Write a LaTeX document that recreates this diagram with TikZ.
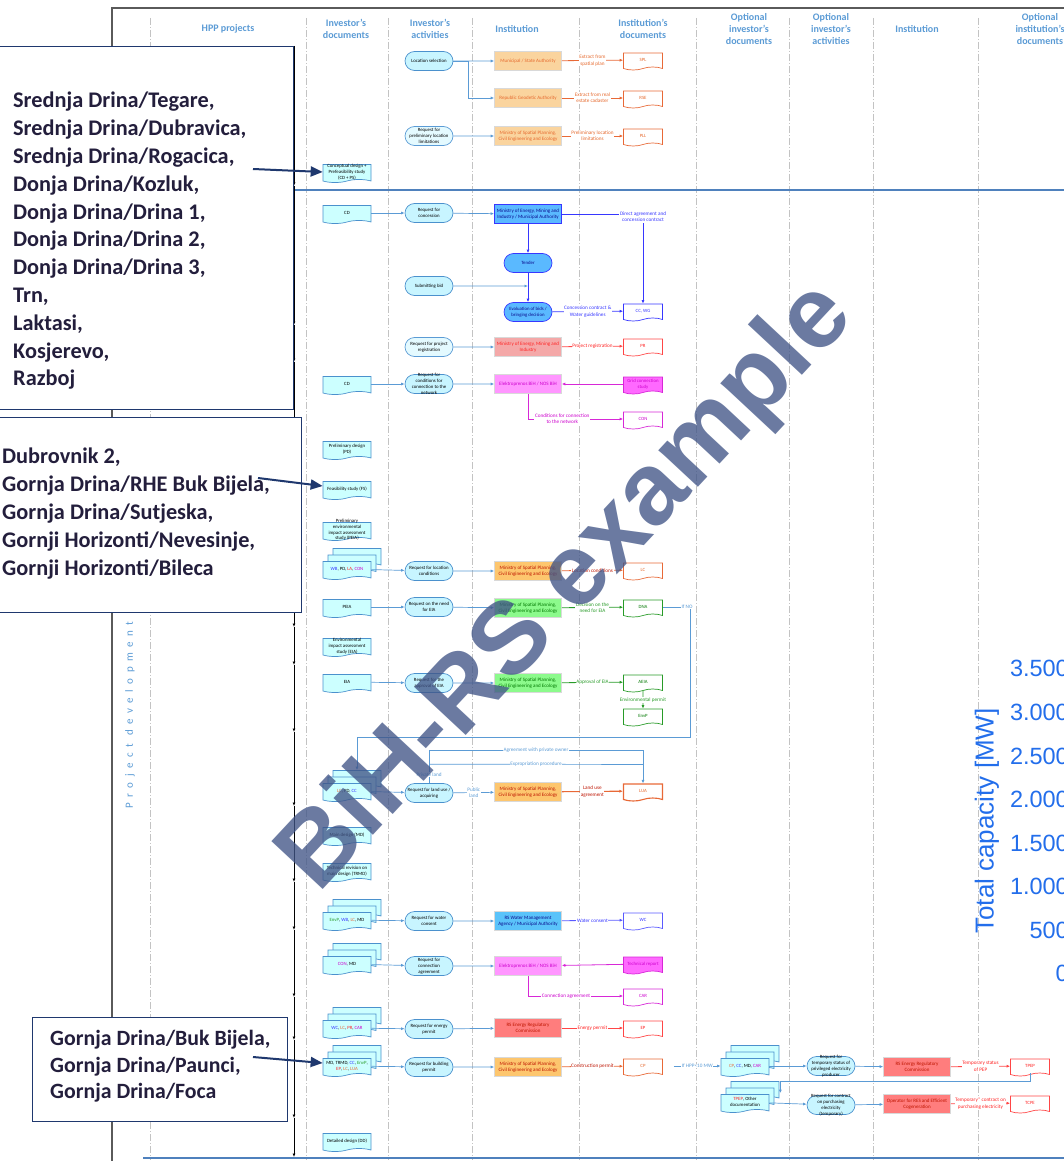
\documentclass[tikz,border=0pt]{standalone}
\usepackage{fontspec}
\setmainfont{Carlito}
\newfontfamily\arialf{Liberation Sans}
\newfontfamily\spacedf[LetterSpace=50]{Carlito}
\usetikzlibrary{shapes.symbols,shapes.misc,shadows,arrows.meta,calc}

\definecolor{hdrc}{RGB}{91,155,213}
\definecolor{lanec}{RGB}{195,195,195}
\definecolor{framec}{RGB}{90,90,90}
\definecolor{sepc}{RGB}{79,129,189}
\definecolor{conc}{RGB}{91,155,213}
\definecolor{docd}{RGB}{75,145,205}
\definecolor{docf}{RGB}{204,255,255}
\definecolor{actf}{RGB}{200,245,255}
\definecolor{actf2}{RGB}{228,250,255}
\definecolor{orgf}{RGB}{250,212,158}
\definecolor{orgf2}{RGB}{253,198,110}
\definecolor{orgt}{RGB}{230,105,45}
\definecolor{drt}{RGB}{190,20,0}
\definecolor{orgd}{RGB}{232,105,55}
\definecolor{grnf}{RGB}{140,250,140}
\definecolor{grnd}{RGB}{40,155,40}
\definecolor{grnt}{RGB}{0,120,0}
\definecolor{bluf}{RGB}{90,185,255}
\definecolor{blud}{RGB}{55,55,255}
\definecolor{blut}{RGB}{10,10,140}
\definecolor{pnkf}{RGB}{244,168,168}
\definecolor{redt}{RGB}{255,35,35}
\definecolor{redd}{RGB}{255,70,70}
\definecolor{magf}{RGB}{255,150,255}
\definecolor{magd}{RGB}{215,40,215}
\definecolor{magt}{RGB}{205,0,205}
\definecolor{magdf}{RGB}{255,105,255}
\definecolor{skyf}{RGB}{90,195,250}
\definecolor{redf}{RGB}{255,125,125}
\definecolor{vild}{RGB}{90,90,255}
\definecolor{navyc}{RGB}{31,56,110}
\definecolor{cbt}{RGB}{35,30,60}
\definecolor{capc}{RGB}{35,110,235}
\definecolor{wmc}{RGB}{65,85,135}

\tikzset{
  lane/.style={draw=lanec, line width=0.8pt, dash pattern=on 7pt off 2pt on 1pt off 2pt},
  hdr/.style={text=hdrc, font=\fontsize{10}{12}\selectfont\bfseries, align=center, inner sep=0pt},
  ntxt/.style={align=center, inner sep=0pt, font=\fontsize{4.8}{6}\selectfont},
  itxt/.style={align=center, inner sep=0pt, font=\fontsize{5}{6.3}\selectfont},
  dtxt/.style={align=center, inner sep=0pt, font=\fontsize{4.8}{5.8}\selectfont},
  actshape/.style={rounded rectangle, draw=docd, fill=actf, line width=0.7pt, minimum width=48pt, minimum height=19pt, inner sep=0pt},
  act/.style={actshape, label={[ntxt]center:#1}},
  actl/.style={actshape, fill=actf2, draw=hdrc, label={[ntxt]center:#1}},
  actb/.style={actshape, fill=bluf, draw=blud, label={[ntxt, text=blut]center:#1}},
  docshape/.style={tape, tape bend top=none, tape bend height=3pt, minimum width=48pt, minimum height=18pt, inner sep=0pt, line width=0.7pt},
  idoc/.style={docshape, draw=docd, fill=docf, label={[dtxt]center:#1}},
  mdoc/.style={docshape, draw=docd, fill=docf,
     general shadow={shadow xshift=10pt, shadow yshift=13pt, fill=docf, draw=docd, line width=0.7pt},
     general shadow={shadow xshift=5pt, shadow yshift=6.5pt, fill=docf, draw=docd, line width=0.7pt},
     label={[dtxt]center:#1}},
  odoc/.style n args={3}{docshape, minimum width=39pt, minimum height=17pt, draw=#1, fill=white, label={[dtxt, text=#2]center:#3}},
  odocf/.style n args={3}{docshape, minimum width=39pt, minimum height=17pt, draw=#1, fill=magdf, label={[dtxt, text=#2]center:#3}},
  inst/.style n args={3}{rectangle, minimum width=67pt, minimum height=19pt, inner sep=0pt, fill=#1, draw=black!15, line width=0.6pt, label={[itxt, text=#2]center:#3}},
  con/.style={draw=conc, line width=0.7pt, -{Latex[length=3.5pt,width=3pt]}},
  conp/.style={draw=conc, line width=0.7pt},
  ccon/.style={draw=#1, line width=0.8pt, -{Latex[length=3.5pt,width=3pt]}},
  clbl/.style={fill=white, inner sep=0.6pt, align=center, font=\fontsize{5.2}{6.4}\selectfont, text=#1},
  tl/.style={draw=black, line width=0.9pt, -{Latex[length=3.5pt,width=3pt]}},
  cbox/.style={draw=navyc, line width=1.4pt, fill=white, inner sep=0pt, anchor=north west},
  cbtxt/.style={align=left, inner sep=0pt, anchor=north west, text=cbt, font=\fontsize{22.3}{27.8}\selectfont\bfseries},
  carr/.style={draw=navyc, line width=2pt, -{Triangle[length=12pt,width=10pt]}},
  capn/.style={anchor=east, inner sep=0pt, text=capc, font=\arialf\fontsize{23.5}{24}\selectfont},
}

\begin{document}
\begin{tikzpicture}[x=1pt,y=-1pt]
\useasboundingbox (0,0) rectangle (1064,1161);
% lanes
\foreach \xx in {150,306,388,472,579,696,789,873,978}
  \draw[lane] (\xx,18) -- (\xx,1160);
% frame and separators
\draw[framec, line width=1.5pt] (112,1161) -- (112,8) -- (1064,8);
\draw[sepc, line width=2pt] (112,190) -- (1064,190);
\draw[sepc, line width=2pt] (143,1158) -- (1064,1158);

% headers
\node[hdr] (h1) at (228,29) {HPP projects};
\node[hdr] (h2) at (346,29) {Investor's\\documents};
\node[hdr] (h3) at (430,29) {Investor's\\activities};
\node[hdr] (h4) at (517,29) {Institution};
\node[hdr] (h5) at (643,29) {Institution's\\documents};
\node[hdr] (h6) at (749,29) {Optional\\investor's\\documents};
\node[hdr] (h7) at (831,29) {Optional\\investor's\\activities};
\node[hdr] (h8) at (917,29) {Institution};
\node[hdr] (h9) at (1040,29) {Optional\\institution's\\documents};

\node[rotate=90, text=hdrc, inner sep=0pt, font=\spacedf\fontsize{11}{11}\selectfont] (pdev) at (130,715) {Project development};

% timeline
\foreach \a/\b in {46/186,186/325,325/362,362/627,627/665,665/732,732/806,806/882,882/930,930/997,997/1040,1040/1118,1118/1157}
  \draw[tl] (294,\a) -- (294,\b);

% ===== top section =====
\node[act={Location selection}] (ls) at (429,61) {};
\node[inst={orgf}{orgt}{Municipal / State Authority}] (mun) at (528,61) {};
\node[inst={orgf}{orgt}{Republic Geodetic Authority}] (rga) at (528,98) {};
\node[actl={Request for\\preliminary location\\limitations}] (rpl) at (429,136) {};
\node[inst={orgf}{orgt}{Ministry of Spatial Planning,\\Civil Engineering and Ecology}] (msp1) at (528,136) {};
\node[odoc={orgd}{orgt}{SPL}] (spl) at (643,60) {};
\node[odoc={orgd}{orgt}{RSE}] (rse) at (643,98) {};
\node[odoc={orgd}{orgt}{PLL}] (pll) at (643,136) {};
\node[idoc={Conceptual design +\\Prefeasibility study\\(CD + PS)}] (cdps) at (347,172) {};
\draw[con] (ls) -- (mun);
\draw[con] (ls.east) -- ++(15,0) |- (rga.west);
\draw[con] (rpl) -- (msp1);
\draw[ccon=orgd] (mun) -- node[clbl=orgt]{Extract from\\spatial plan} (spl);
\draw[ccon=orgd] (rga) -- node[clbl=orgt]{Extract from real\\estate cadaster} (rse);
\draw[ccon=orgd] (msp1) -- node[clbl=orgt]{Preliminary location\\limitations} (pll);

% ===== concession =====
\node[idoc={CD}] (cd1) at (347,213) {};
\node[act={Request for\\concession}] (rc) at (429,213) {};
\node[inst={bluf}{blut}{Ministry of Energy, Mining and\\Industry / Municipal Authority}, draw=blud, line width=0.9pt] (mee) at (528,214) {};
\node[actb={Tender}] (tender) at (528,263) {};
\node[act={Submitting bid}] (sb) at (429,286) {};
\node[actb={Evaluation of bids /\\bringing decision}] (eval) at (528,312) {};
\node[odoc={blud}{blud}{CC, WG}] (ccwg) at (643,311) {};
\draw[con] (cd1) -- (rc);
\draw[con] (rc) -- (mee);
\draw[ccon=blud] (mee) -- (tender);
\draw[ccon=blud] (tender) -- (eval);
\draw[con] (sb) -- (sb -| tender);
\draw[ccon=blud] (mee.east) -| node[clbl=blud, yshift=-3pt]{Direct agreement and\\concession contract} (ccwg.north);
\draw[ccon=blud] (eval) -- node[clbl=blud]{Concession contract \&\\Water guidelines} (ccwg);

% ===== project registration =====
\node[actl={Request for project\\registration}] (rpr) at (429,347) {};
\node[inst={pnkf}{redt}{Ministry of Energy, Mining and\\Industry}] (mem) at (528,347) {};
\node[odoc={redd}{redt}{PR}] (pr) at (643,346) {};
\draw[con] (rpr) -- (mem);
\draw[ccon=redd] (mem) -- node[clbl=redt]{Project registration} (pr);

% ===== connection conditions =====
\node[idoc={CD}] (cd2) at (347,384) {};
\node[act={Request for\\conditions for\\connection to the\\network}] (rcc) at (429,384) {};
\node[inst={magf}{magt}{Elektroprenos BiH / NOS BiH}] (ep1) at (528,384) {};
\node[odocf={magd}{magt}{Grid connection\\study}] (gcs) at (643,384) {};
\node[odoc={magd}{magt}{CON}] (con) at (643,419) {};
\draw[con] (cd2) -- (rcc);
\draw[con] (rcc) -- (ep1);
\draw[ccon=magd] (gcs) -- (ep1);
\draw[ccon=magd] (ep1.south) |- node[clbl=magt, pos=0.68]{Conditions for connection\\to the network} (con.west);

% ===== studies =====
\node[idoc={Preliminary design\\(PD)}] (pd) at (347,449) {};
\node[idoc={Feasibility study (FS)}] (fs) at (347,489) {};
\node[idoc={Preliminary\\environmental\\impact assessment\\study (PEIA)}] (peia) at (347,530) {};

% ===== location conditions =====
\node[mdoc={\textcolor{blud}{WB}, PD, \textcolor{redt}{LA}, \textcolor{magt}{CON}}] (m1) at (347,569) {};
\node[act={Request for location\\conditions}] (rlc) at (429,571) {};
\node[inst={orgf2}{drt}{Ministry of Spatial Planning,\\Civil Engineering and Ecology}] (msp2) at (528,571) {};
\node[odoc={orgd}{orgt}{LC}] (lc) at (643,570) {};
\draw[con] (m1) -- (rlc);
\draw[con] (rlc) -- (msp2);
\draw[ccon=orgd] (msp2) -- node[clbl=drt]{Location conditions} (lc);

% ===== EIA =====
\node[idoc={PEIA}] (peia2) at (347,607) {};
\node[act={Request on the need\\for EIA}] (rne) at (429,607) {};
\node[inst={grnf}{grnt}{Ministry of Spatial Planning,\\Civil Engineering and Ecology}] (msp3) at (528,608) {};
\node[odoc={grnd}{grnt}{DNA}] (dna) at (643,607) {};
\draw[con] (peia2) -- (rne);
\draw[con] (rne) -- (msp3);
\draw[ccon=grnd] (msp3) -- node[clbl=grnd]{Decision on the\\need for EIA} (dna);

\node[idoc={Environmental\\impact assessment\\study (EIA)}] (eias) at (347,646) {};
\node[idoc={EIA}] (eia) at (347,682) {};
\node[act={Request for the\\approval of EIA}] (rae) at (429,683) {};
\node[inst={grnf}{grnt}{Ministry of Spatial Planning,\\Civil Engineering and Ecology}] (msp4) at (528,683) {};
\node[odoc={grnd}{grnt}{AEIA}] (aeia) at (643,682) {};
\node[odoc={grnd}{grnt}{EnvP}] (envp) at (643,716) {};
\draw[con] (eia) -- (rae);
\draw[con] (rae) -- (msp4);
\draw[ccon=grnd] (msp4) -- node[clbl=grnd]{Approval of EIA} (aeia);
\draw[ccon=grnd] (aeia) -- node[clbl=grnd]{Environmental permit} (envp);

% ===== land use =====
\node[mdoc={\textcolor{orgd}{LC}, PD, \textcolor{blud}{CC}}] (m2) at (347,791) {};
\node[act={Request for land use /\\acquiring}] (rlu) at (429,793) {};
\node[inst={orgf2}{drt}{Ministry of Spatial Planning,\\Civil Engineering and Ecology}] (msp5) at (528,792) {};
\node[odoc={orgd}{orgt}{LUA}, line width=1.1pt] (lua) at (643,791) {};
\coordinate (ifno) at (690,607);
\coordinate (ifnob) at (690,737);
\draw[con] (dna.east) -- (ifno) node[clbl=conc, xshift=-3pt]{If NO} -- (ifnob) -| ($(m2.north)+(10,-13)$);
\draw[con] (m2) -- (rlu);
\draw[con] (rlu) -- node[clbl=conc]{Public\\land} (msp5);
\draw[ccon=orgd, line width=1.1pt] (msp5) -- node[clbl=drt]{Land use\\agreement} (lua);
\draw[con] (rlu.north) -- node[clbl=conc, pos=0.27]{Private land} ++(0,-33) -| node[clbl=conc, pos=0.25]{Agreement with private owner} (lua.north);
\draw[conp] ($(rlu.north)+(0,-19)$) -- node[clbl=conc]{Expropriation procedure} ($(lua.north)+(0,-19)$);

% ===== designs =====
\node[idoc={Main design (MD)}] (md) at (347,835) {};
\node[idoc={Technical revision on\\main design (TRMD)}] (trmd) at (347,871) {};

% ===== water consent =====
\node[mdoc={\textcolor{grnd}{EnvP}, \textcolor{blud}{WB}, \textcolor{orgd}{LC}, MD}] (m3) at (347,920) {};
\node[act={Request for water\\consent}] (rwc) at (429,921) {};
\node[inst={skyf}{blut}{RS Water Management\\Agency / Municipal Authority}] (rsw) at (528,921) {};
\node[odoc={vild}{blud}{WC}] (wc) at (643,920) {};
\draw[con] (m3) -- (rwc);
\draw[con] (rwc) -- (rsw);
\draw[ccon=vild] (rsw) -- node[clbl=blud]{Water consent} (wc);

% ===== connection agreement =====
\node[mdoc={\textcolor{magt}{CON}, MD}] (m4) at (347,964) {};
\node[act={Request for\\connection\\agreement}] (rca) at (429,966) {};
\node[inst={magf}{magt}{Elektroprenos BiH / NOS BiH}] (ep2) at (528,966) {};
\node[odocf={magd}{magt}{Technical report}] (tr) at (643,964) {};
\node[odoc={magd}{magt}{CAR}] (car) at (643,996) {};
\draw[con] (m4) -- (rca);
\draw[con] (rca) -- (ep2);
\draw[ccon=magd] (tr) -- (ep2);
\draw[ccon=magd] (ep2.south) |- node[clbl=magt, pos=0.7]{Connection agreement} (car.west);

% ===== energy permit =====
\node[mdoc={\textcolor{blud}{WC}, \textcolor{orgd}{LC}, \textcolor{redt}{PR}, \textcolor{magt}{CAR}}] (m5) at (347,1028) {};
\node[act={Request for energy\\permit}] (rep) at (429,1029) {};
\node[inst={redf}{drt}{RS Energy Regulatory\\Commission}] (rerc1) at (528,1028) {};
\node[odoc={redd}{redt}{EP}] (ep) at (643,1028) {};
\draw[con] (m5) -- (rep);
\draw[con] (rep) -- (rerc1);
\draw[ccon=redd] (rerc1) -- node[clbl=redt]{Energy permit} (ep);

% ===== building permit =====
\node[mdoc={MD, TRMD, \textcolor{blud}{CC}, \textcolor{grnd}{EnvP},\\\textcolor{redt}{EP}, \textcolor{orgd}{LC}, \textcolor{orgd}{LUA}}] (m6) at (347,1066) {};
\node[act={Request for building\\permit}] (rbp) at (429,1067) {};
\node[inst={orgf2}{drt}{Ministry of Spatial Planning,\\Civil Engineering and Ecology}] (msp6) at (528,1067) {};
\node[odoc={orgd}{orgt}{CP}] (cp) at (643,1066) {};
\draw[con] (m6) -- (rbp);
\draw[con] (rbp) -- (msp6);
\draw[ccon=orgd] (msp6) -- node[clbl=drt]{Construction permit} (cp);

\node[idoc={Detailed design (DD)}] (dd) at (347,1141) {};

% ===== optional =====
\node[mdoc={\textcolor{orgd}{CP}, \textcolor{blud}{CC}, MD, \textcolor{magt}{CAR}}] (m7) at (745,1066) {};
\node[act={Request for\\temporary status of\\privileged electricity\\producer}] (rts) at (831,1066) {};
\node[inst={redf}{drt}{RS Energy Regulatory\\Commission}] (rerc2) at (917,1067) {};
\node[odoc={redd}{redt}{TPEP}] (tpep) at (1030,1066) {};
\node[mdoc={\textcolor{redt}{TPEP}, Other\\documentation}] (m8) at (745,1102) {};
\node[act={Request for contract\\on purchasing\\electricity\\(temporary)}] (rcp) at (831,1105) {};
\node[inst={redf}{drt}{Operator for RES and Efficient\\Cogeneration}] (ores) at (917,1104) {};
\node[odoc={redd}{redt}{TCPE}] (tcpe) at (1030,1103) {};
\draw[con] ($(cp.east)+(11,0)$) -- node[clbl=conc]{If HPP<10 MW} (m7);
\draw[con] (m7) -- (rts);
\draw[con] (rts) -- (rerc2);
\draw[ccon=redd] (rerc2) -- node[clbl=redt]{Temporary status\\of PEP} (tpep);
\draw[con] (tpep.south) -- ++(0,8) -| ($(m8.north east)+(11,-1)$);
\draw[con] (m8) -- (rcp);
\draw[con] (rcp) -- (ores);
\draw[ccon=redd] (ores) -- node[clbl=redt]{Temporary* contract on\\purchasing electricity} (tcpe);

% ===== capacity axis =====
\node[rotate=90, inner sep=0pt, text=capc, font=\arialf\fontsize{26}{26}\selectfont] (cap) at (987,821) {Total capacity [MW]};
\node[capn] (n1) at (1069,668) {3.500};
\node[capn] (n2) at (1069,712) {3.000};
\node[capn] (n3) at (1069,756) {2.500};
\node[capn] (n4) at (1069,799) {2.000};
\node[capn] (n5) at (1069,843) {1.500};
\node[capn] (n6) at (1069,886) {1.000};
\node[capn] (n7) at (1069,930) {500};
\node[capn] (n8) at (1069,973) {0};

% ===== callouts =====
\node[cbox, minimum width=296pt, minimum height=363pt] (cb1) at (-3,46) {};
\node[cbtxt] (ct1) at (13,92) {Srednja Drina/Tegare,\\Srednja Drina/Dubravica,\\Srednja Drina/Rogacica,\\Donja Drina/Kozluk,\\Donja Drina/Drina 1,\\Donja Drina/Drina 2,\\Donja Drina/Drina 3,\\Trn,\\Laktasi,\\Kosjerevo,\\Razboj};
\coordinate (a1) at (253,169);
\draw[carr] (a1) -- (cdps.west);

\node[cbox, minimum width=304pt, minimum height=195pt] (cb2) at (-3,417) {};
\node[cbtxt] (ct2) at (2,448) {Dubrovnik 2,\\Gornja Drina/RHE Buk Bijela,\\Gornja Drina/Sutjeska,\\Gornji Horizonti/Nevesinje,\\Gornji Horizonti/Bileca};
\coordinate (a2) at (258,478);
\draw[carr] (a2) -- ($(fs.west)+(0,-3)$);

\node[cbox, minimum width=255pt, minimum height=104pt] (cb3) at (32,1017) {};
\node[cbtxt, font=\fontsize{21.8}{26.5}\selectfont\bfseries] (ct3) at (50,1030) {Gornja Drina/Buk Bijela,\\Gornja Drina/Paunci,\\Gornja Drina/Foca};
\coordinate (a3) at (253,1057);
\draw[carr] (a3) -- ($(m6.west)+(0,-3)$);

% ===== watermark =====
\node[rotate=47, text=wmc, opacity=0.78, inner sep=0pt, font=\arialf\bfseries\fontsize{102}{102}\selectfont] (wm) at (568,588) {BiH-RS example};
\end{tikzpicture}
\end{document}
